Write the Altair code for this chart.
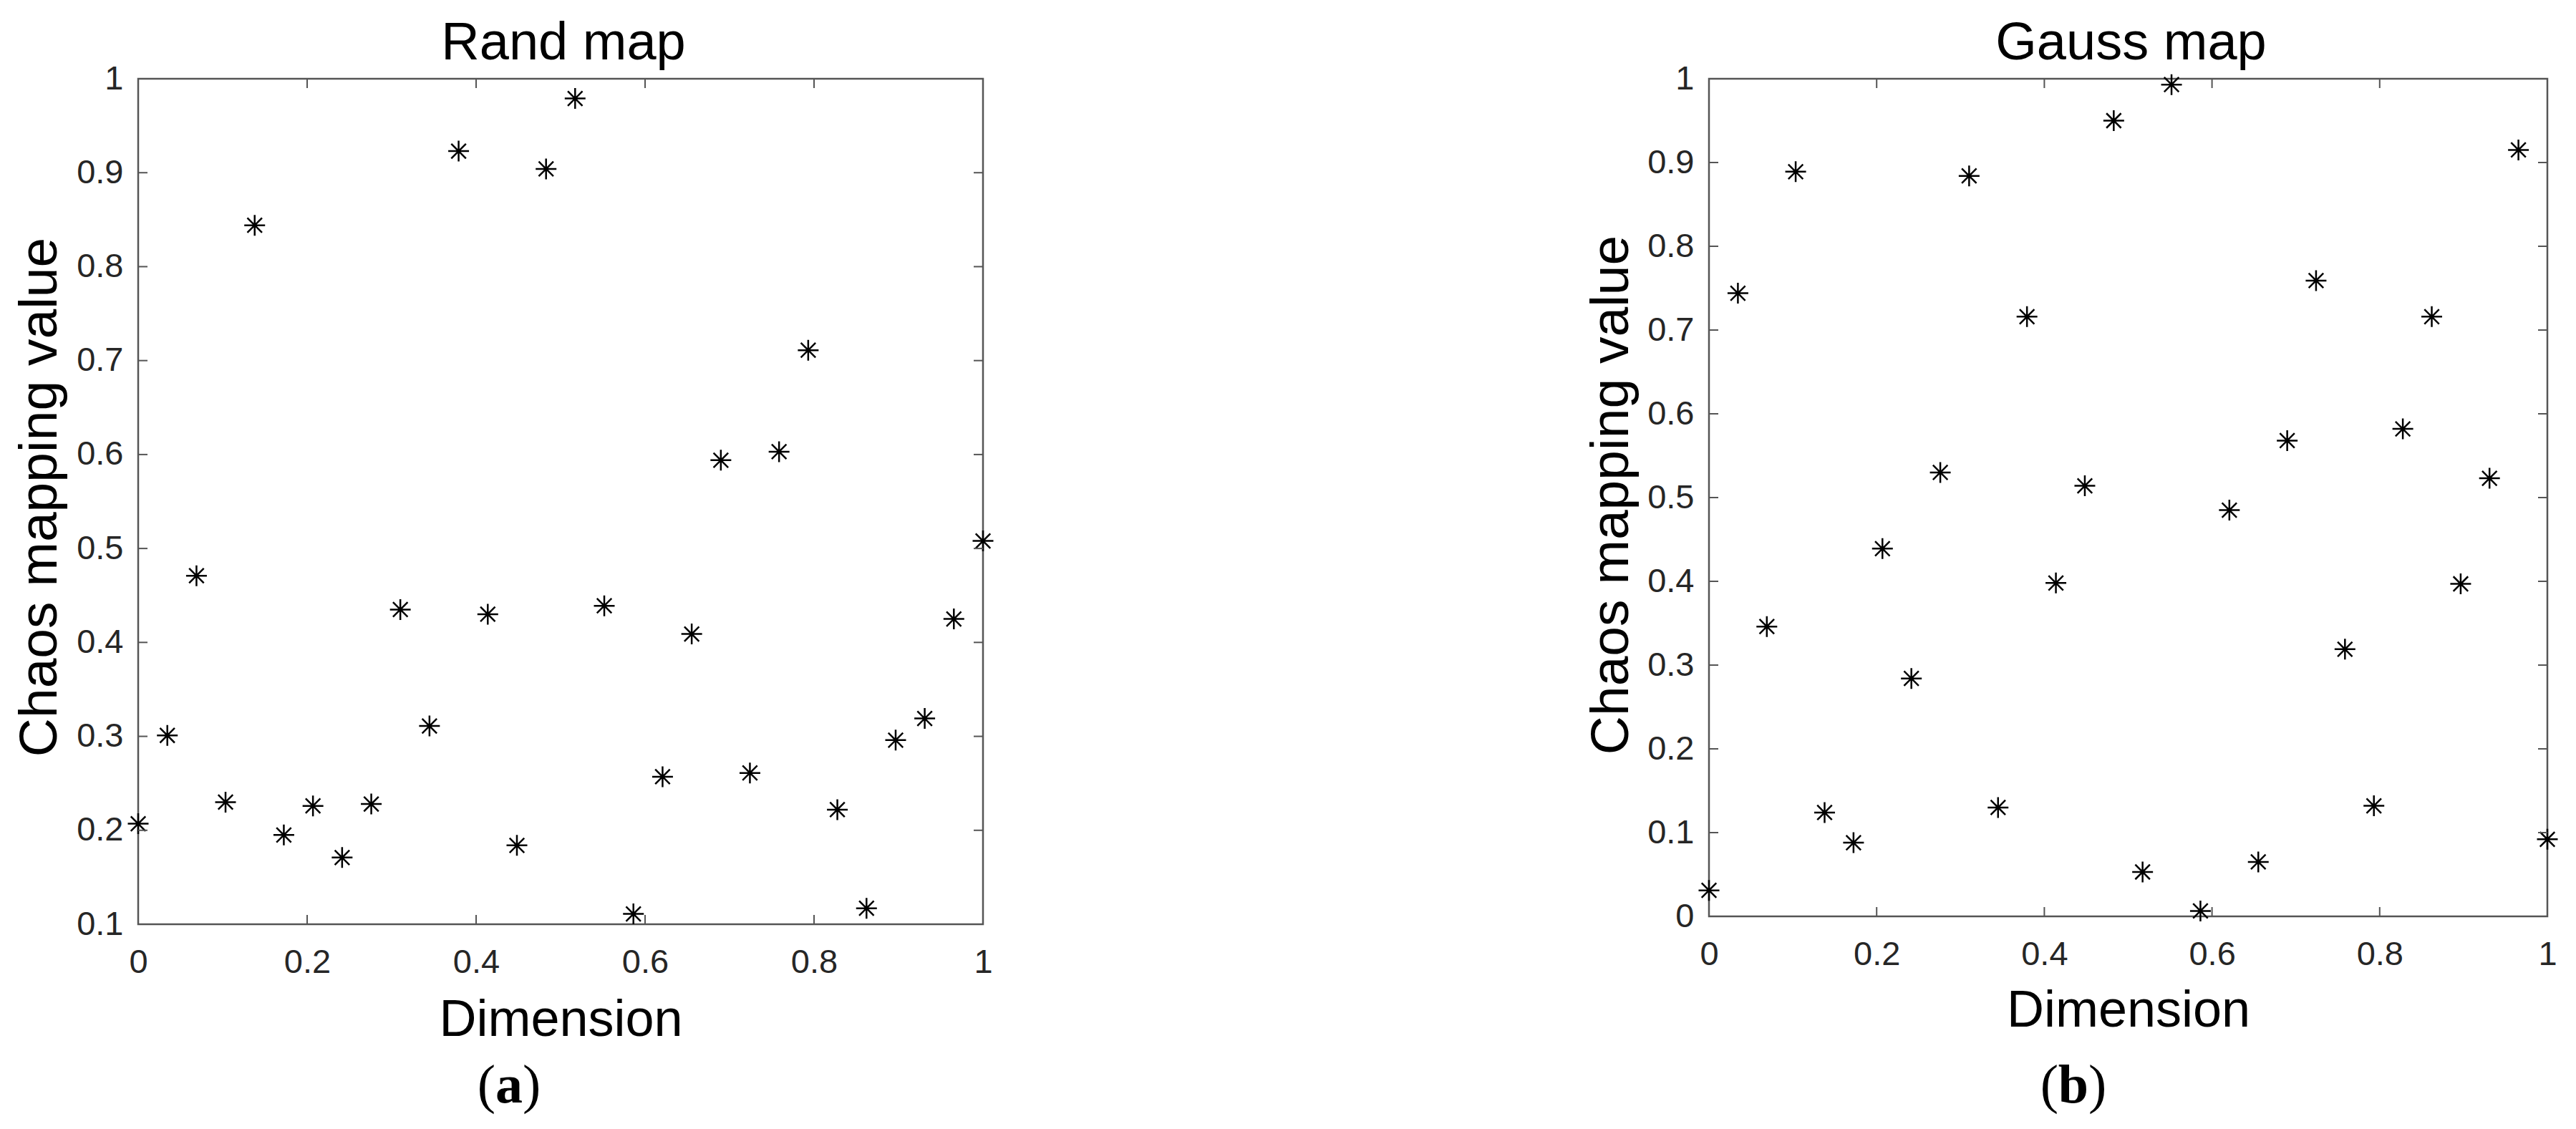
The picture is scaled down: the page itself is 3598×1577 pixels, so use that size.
import altair as alt
import pandas as pd

# ---- data ----
dimension = [0.0, 0.0345, 0.069, 0.1034, 0.1379, 0.1724, 0.2069, 0.2414, 0.2759, 0.3103,
             0.3448, 0.3793, 0.4138, 0.4483, 0.4828, 0.5172, 0.5517, 0.5862, 0.6207, 0.6552,
             0.6897, 0.7241, 0.7586, 0.7931, 0.8276, 0.8621, 0.8966, 0.931, 0.9655, 1.0]

rand_values = [0.207, 0.301, 0.471, 0.230, 0.844, 0.195, 0.226, 0.171, 0.228, 0.435,
               0.311, 0.923, 0.430, 0.184, 0.904, 0.979, 0.439, 0.111, 0.257, 0.409,
               0.594, 0.261, 0.603, 0.711, 0.222, 0.117, 0.296, 0.319, 0.425, 0.508]

gauss_values = [0.031, 0.744, 0.346, 0.889, 0.124, 0.088, 0.439, 0.284, 0.530, 0.884,
                0.130, 0.716, 0.398, 0.514, 0.950, 0.053, 0.993, 0.0065, 0.485, 0.065,
                0.568, 0.759, 0.319, 0.132, 0.582, 0.716, 0.397, 0.523, 0.915, 0.092]

x_ticks = [0, 0.2, 0.4, 0.6, 0.8, 1]
rand_yticks = [0.1, 0.2, 0.3, 0.4, 0.5, 0.6, 0.7, 0.8, 0.9, 1]
gauss_yticks = [0, 0.1, 0.2, 0.3, 0.4, 0.5, 0.6, 0.7, 0.8, 0.9, 1]

titles = ["Rand map", "Gauss map"]
captions = ["a", "b"]
x_title = "Dimension"
y_title = "Chaos mapping value"

ASTER = ("M0,-1L0,1M-1,0L1,0M-0.7071,-0.7071L0.7071,0.7071"
         "M-0.7071,0.7071L0.7071,-0.7071")
BOX = "#555555"
TICK_LEN = 13


def panel(values, ydomain, yticks, title, letter, W, H, ytx, yty, xty, cap_cx, cap_half):
    df = pd.DataFrame({"Dimension": dimension, "value": values})
    xs = alt.Scale(domain=[0, 1], nice=False, zero=False)
    ys = alt.Scale(domain=ydomain, nice=False, zero=False)
    xaxis = alt.Axis(values=x_ticks, format="~g", title=x_title,
                     titleY=xty, titleBaseline="alphabetic", labelPadding=30)
    yaxis = alt.Axis(values=yticks, format="~g", title=y_title,
                     titleX=ytx, titleY=yty, titleBaseline="alphabetic",
                     titleFontSize=75, labelPadding=21)

    pts = alt.Chart(df).mark_point(
        shape=ASTER, filled=False, color="black", strokeWidth=2.5, size=841, opacity=1
    ).encode(
        x=alt.X("Dimension:Q", scale=xs, axis=xaxis),
        y=alt.Y("value:Q", scale=ys, axis=yaxis),
    )

    ydf = pd.DataFrame({"value": yticks})
    xdf = pd.DataFrame({"Dimension": x_ticks})
    ytl = alt.Chart(ydf).mark_rule(color=BOX, strokeWidth=2).encode(
        y=alt.Y("value:Q", scale=ys, axis=yaxis),
        x=alt.value(0), x2=alt.value(TICK_LEN))
    ytr = alt.Chart(ydf).mark_rule(color=BOX, strokeWidth=2).encode(
        y=alt.Y("value:Q", scale=ys, axis=yaxis),
        x=alt.value(W), x2=alt.value(W - TICK_LEN))
    xtb = alt.Chart(xdf).mark_rule(color=BOX, strokeWidth=2).encode(
        x=alt.X("Dimension:Q", scale=xs, axis=xaxis),
        y=alt.value(H), y2=alt.value(H - TICK_LEN))
    xtt = alt.Chart(xdf).mark_rule(color=BOX, strokeWidth=2).encode(
        x=alt.X("Dimension:Q", scale=xs, axis=xaxis),
        y=alt.value(0), y2=alt.value(TICK_LEN))

    tdf = pd.DataFrame({"t": [title]})
    ttl = alt.Chart(tdf).mark_text(
        font="Liberation Sans", fontSize=74, align="center", baseline="alphabetic",
        color="black").encode(text="t:N", x=alt.value(W / 2 + 4), y=alt.value(-27))

    cap_y = 1430
    cdf = pd.DataFrame({"t": ["(", letter, ")"]})
    c1 = alt.Chart(cdf.iloc[[0]]).mark_text(
        font="Liberation Serif", fontSize=76, align="right", baseline="alphabetic",
        color="black").encode(text="t:N", x=alt.value(cap_cx - cap_half), y=alt.value(cap_y))
    c2 = alt.Chart(cdf.iloc[[1]]).mark_text(
        font="Liberation Serif", fontSize=76, fontWeight="bold", align="center",
        baseline="alphabetic", color="black").encode(
        text="t:N", x=alt.value(cap_cx), y=alt.value(cap_y))
    c3 = alt.Chart(cdf.iloc[[2]]).mark_text(
        font="Liberation Serif", fontSize=76, align="left", baseline="alphabetic",
        color="black").encode(text="t:N", x=alt.value(cap_cx + cap_half), y=alt.value(cap_y))

    return alt.layer(pts, ytl, ytr, xtb, xtt, ttl, c1, c2, c3).properties(
        width=W, height=H)


left = panel(rand_values, [0.1, 1], rand_yticks, titles[0], captions[0],
             1180, 1181, -114.8, 584, 155, 518, 19)
right = panel(gauss_values, [0, 1], gauss_yticks, titles[1], captions[1],
              1171, 1170, -113.6, 581, 153, 509, 21)

chart = alt.hconcat(left, right, spacing=818).properties(
    padding={"left": 8, "top": 14, "right": 5, "bottom": 5},
    background="white",
).configure_view(
    stroke=BOX, strokeWidth=2.5
).configure_axis(
    domain=False, ticks=False, tickSize=0, grid=False,
    labelFont="Liberation Sans", labelFontSize=47, labelColor="#262626",
    labelFlush=False, labelOverlap=False, labelBound=False,
    titleFont="Liberation Sans", titleFontSize=72, titleFontWeight="normal",
    titleColor="black",
)

chart.save("out.html", embed_options={"renderer": "svg", "actions": False})
